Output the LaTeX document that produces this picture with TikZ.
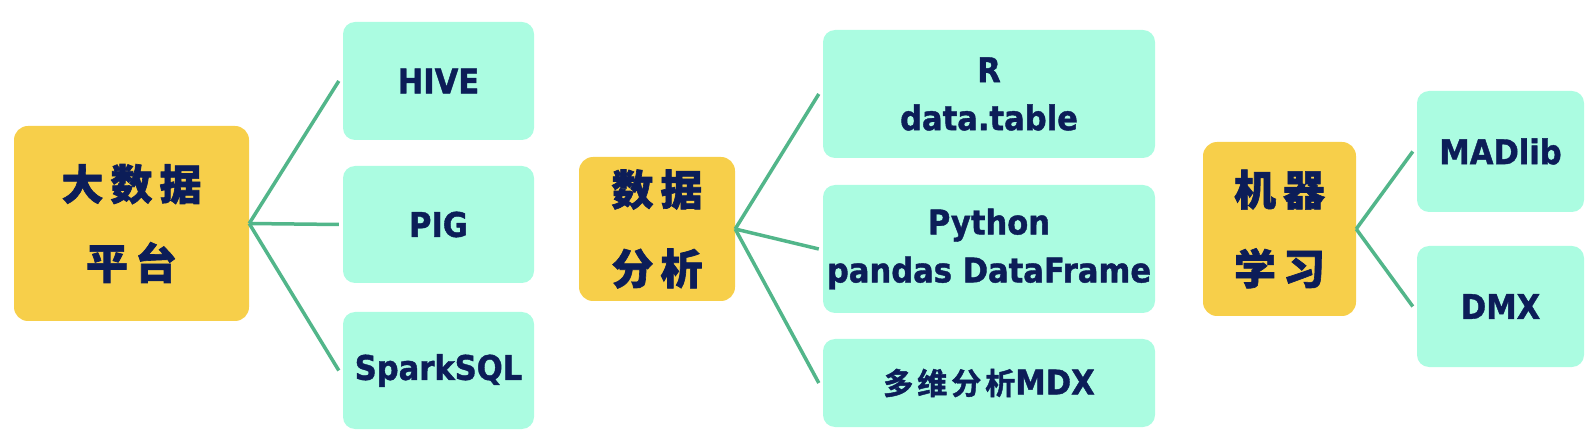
\documentclass[tikz,border=0pt]{standalone}
\usepackage{fontspec}
\setmainfont{DejaVu Sans Condensed}[BoldFeatures={FakeBold=1.2}]
\newfontfamily\cjk{Noto Sans CJK SC Black}[FakeBold=1.5]
\definecolor{hubyellow}{HTML}{F7CF4A}
\definecolor{leafmint}{HTML}{ABFCE1}
\definecolor{linkgreen}{HTML}{52B68A}
\definecolor{ink}{HTML}{0C1D58}
\begin{document}
\begin{tikzpicture}[x=1pt,y=-1pt,
  hub/.style={fill=hubyellow, rounded corners=14pt, inner sep=0pt, text=ink, align=center,
    font=\cjk\fontsize{42}{79}\selectfont},
  leaf/.style={fill=leafmint, rounded corners=12pt, inner sep=0pt, text=ink, align=center,
    font=\bfseries\fontsize{34}{48}\selectfont},
  link/.style={draw=linkgreen, line width=3.5pt}]
\useasboundingbox (0,0) rectangle (1596,446);

% hubs
\node[hub, minimum width=235pt, minimum height=195pt] (y1) at (131.5,223.5)
  {大\hspace{7pt}数\hspace{7pt}据\\平\hspace{7pt}台};
\node[hub, minimum width=156pt, minimum height=144pt] (y2) at (657,229)
  {数\hspace{7pt}据\\分\hspace{7pt}析};
\node[hub, minimum width=153pt, minimum height=174pt] (y3) at (1279.5,229)
  {机\hspace{7pt}器\\学\hspace{7pt}习};

% column 1
\node[leaf, minimum width=191pt, minimum height=118pt] (hive) at (438.5,81) {HIVE};
\node[leaf, minimum width=191pt, minimum height=117pt] (pig) at (438.5,224.5) {PIG};
\node[leaf, minimum width=191pt, minimum height=117pt] (spark) at (438.5,370.5) {SparkSQL};

% column 2
\node[leaf, minimum width=332pt, minimum height=128pt] (rbox) at (989,94) {R\\data.table};
\node[leaf, minimum width=332pt, minimum height=128pt] (py) at (989,249) {Python\\pandas DataFrame};
\node[leaf, minimum width=332pt, minimum height=88pt] (mdx) at (989,383)
  {{\cjk\fontsize{30}{36}\selectfont 多\hspace{4pt}维\hspace{4pt}分\hspace{4pt}析}MDX};

% column 3
\node[leaf, minimum width=167pt, minimum height=121pt] (mad) at (1500.5,151.5) {MADlib};
\node[leaf, minimum width=167pt, minimum height=121pt] (dmx) at (1500.5,306.5) {DMX};

% connectors
\draw[link] (y1.east) -- ([xshift=-4pt]hive.west);
\draw[link] (y1.east) -- ([xshift=-4pt]pig.west);
\draw[link] (y1.east) -- ([xshift=-4pt]spark.west);
\draw[link] (y2.east) -- ([xshift=-4pt]rbox.west);
\draw[link] (y2.east) -- ([xshift=-4pt]py.west);
\draw[link] (y2.east) -- ([xshift=-4pt]mdx.west);
\draw[link] (y3.east) -- ([xshift=-4pt]mad.west);
\draw[link] (y3.east) -- ([xshift=-4pt]dmx.west);
\end{tikzpicture}
\end{document}
